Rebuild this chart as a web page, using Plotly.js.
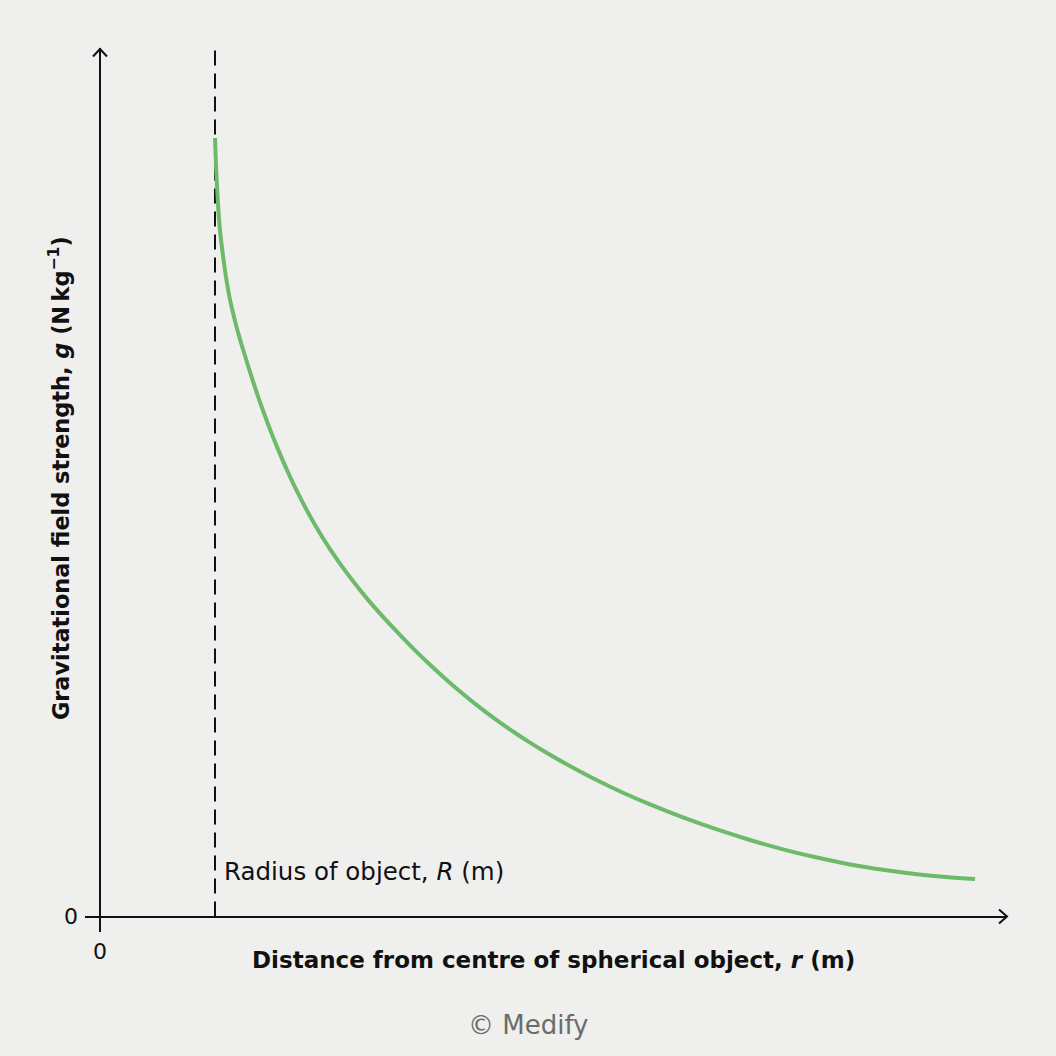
<!DOCTYPE html>
<html>
<head>
<meta charset="utf-8">
<script src="https://cdn.plot.ly/plotly-3.0.1.min.js"></script>
<style>html,body{margin:0;padding:0;background:#efefee;}</style>
</head>
<body>
<div id="chart" style="width:1056px;height:1056px;"></div>
<script>
// distance from centre, in units of the object's radius R
var distance = [1.000, 1.009, 1.019, 1.030, 1.043, 1.061, 1.083, 1.104, 1.130, 1.157, 1.187, 1.217, 1.246, 1.309, 1.377, 1.461, 1.550, 1.643, 1.739, 1.865, 2.000, 2.157, 2.333, 2.522, 2.722, 2.870, 3.017, 3.157, 3.304, 3.452, 3.591, 3.739, 3.887, 4.035, 4.174, 4.322, 4.548, 4.783, 5.070, 5.365, 5.652, 5.939, 6.235, 6.522, 6.809, 7.104, 7.357, 7.609];
// gravitational field strength (arbitrary units)
var fieldStrength = [10.000, 9.640, 9.332, 9.062, 8.818, 8.587, 8.343, 8.137, 7.927, 7.752, 7.576, 7.417, 7.274, 6.974, 6.668, 6.325, 5.994, 5.680, 5.386, 5.042, 4.719, 4.391, 4.064, 3.752, 3.445, 3.233, 3.034, 2.857, 2.682, 2.519, 2.376, 2.234, 2.100, 1.974, 1.863, 1.750, 1.590, 1.440, 1.273, 1.118, 0.983, 0.863, 0.757, 0.669, 0.600, 0.543, 0.507, 0.482];
var radiusR = 1;
var xTickVals = [0];
var xTickText = ['0'];
var yTickVals = [0];
var yTickText = ['0'];
var xTitle = 'Distance from centre of spherical object, <i>r</i> (m)';
var yTitle = 'Gravitational field strength, <i>g</i> (N\u2009kg<sup>\u22121</sup>)';
var radiusLabel = 'Radius of object, <i>R</i> (m)';
var credit = '\u00a9 Medify';

var FONT = 'DejaVu Sans, Liberation Sans, Arial, sans-serif';

var trace = {
  x: distance,
  y: fieldStrength,
  type: 'scatter',
  mode: 'lines',
  line: {color: '#6cba6a', width: 4, shape: 'spline', smoothing: 1},
  hoverinfo: 'skip',
  showlegend: false
};

var layout = {
  width: 1056,
  height: 1056,
  margin: {l: 85, r: 50, t: 48, b: 124, pad: 0},
  paper_bgcolor: '#efefee',
  plot_bgcolor: '#efefee',
  showlegend: false,
  xaxis: {
    range: [-0.1304, 7.8783],
    showgrid: false,
    showline: false,
    zeroline: true,
    zerolinecolor: '#111111',
    zerolinewidth: 2,
    tickvals: xTickVals,
    ticktext: xTickText,
    ticks: '',
    ticklabelstandoff: 4,
    tickfont: {family: FONT, size: 22, color: '#111111'},
    fixedrange: true
  },
  yaxis: {
    range: [-0.1991, 11.156],
    showgrid: false,
    showline: false,
    zeroline: true,
    zerolinecolor: '#111111',
    zerolinewidth: 2,
    tickvals: yTickVals,
    ticktext: yTickText,
    ticks: '',
    ticklabelstandoff: 6,
    tickfont: {family: FONT, size: 22, color: '#111111'},
    fixedrange: true
  },
  shapes: [
    {type: 'line', xref: 'x', yref: 'paper', x0: radiusR, x1: radiusR, y0: 0.01753, y1: 1.002,
     line: {color: '#111111', width: 2, dash: '15px,8px'}, layer: 'below'},
    {type: 'path', xref: 'paper', yref: 'paper',
     path: 'M 0.99240,0.02545 L 1.00109,0.01753 L 0.99240,0.00962',
     line: {color: '#111111', width: 2}},
    {type: 'path', xref: 'paper', yref: 'paper',
     path: 'M 0.008686,0.99038 L 0.016287,0.99887 L 0.023887,0.99038',
     line: {color: '#111111', width: 2}}
  ],
  annotations: [
    {text: xTitle, xref: 'paper', yref: 'paper', x: 0.5092, y: -0.03167,
     xanchor: 'center', yanchor: 'middle', showarrow: false,
     font: {family: FONT, size: 23, color: '#111111', weight: 'bold'}},
    {text: yTitle, xref: 'paper', yref: 'paper', x: -0.02814, y: 0.5136,
     xanchor: 'center', yanchor: 'middle', showarrow: false, textangle: -90,
     font: {family: FONT, size: 22.4, color: '#111111', weight: 'bold'}},
    {text: radiusLabel, xref: 'paper', yref: 'paper', x: 0.14875, y: 0.0690,
     xanchor: 'left', yanchor: 'middle', showarrow: false,
     font: {family: FONT, size: 24.5, color: '#111111'}},
    {text: credit, xref: 'paper', yref: 'paper', x: 0.4810, y: -0.1052,
     xanchor: 'center', yanchor: 'middle', showarrow: false,
     font: {family: FONT, size: 26, color: '#6b6b6b'}}
  ]
};

Plotly.newPlot('chart', [trace], layout, {displayModeBar: false, staticPlot: true});
</script>
</body>
</html>
